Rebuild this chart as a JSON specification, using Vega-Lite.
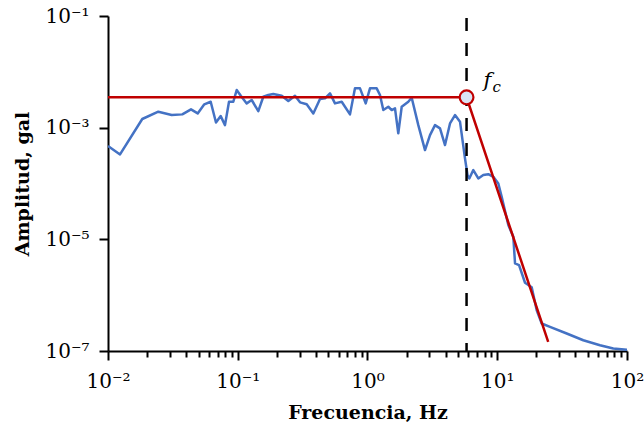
{
  "$schema": "https://vega.github.io/schema/vega-lite/v6.json",
  "width": 519,
  "height": 335,
  "autosize": {"type": "none"},
  "padding": {"left": 108, "top": 16, "right": 17, "bottom": 72},
  "background": "white",
  "config": {
    "view": {"stroke": null},
    "font": "DejaVu Serif",
    "axis": {
      "grid": false,
      "ticks": true,
      "domainColor": "black",
      "domainWidth": 2,
      "tickColor": "black",
      "tickWidth": 2,
      "labelColor": "black",
      "titleColor": "black",
      "labelFont": "DejaVu Serif",
      "titleFont": "DejaVu Serif",
      "labelFontSize": 20,
      "titleFontSize": 19,
      "titleFontWeight": "bold"
    }
  },
  "datasets": {
    "spectrum": [
      {"f": 0.01, "A": 4.68e-4},
      {"f": 0.01238, "A": 3.32e-4},
      {"f": 0.01837, "A": 1.43e-3},
      {"f": 0.02442, "A": 1.93e-3},
      {"f": 0.03097, "A": 1.68e-3},
      {"f": 0.03737, "A": 1.73e-3},
      {"f": 0.04362, "A": 2.13e-3},
      {"f": 0.04912, "A": 1.80e-3},
      {"f": 0.05524, "A": 2.62e-3},
      {"f": 0.06186, "A": 2.91e-3},
      {"f": 0.06797, "A": 1.24e-3},
      {"f": 0.07388, "A": 1.61e-3},
      {"f": 0.07973, "A": 1.11e-3},
      {"f": 0.08562, "A": 2.91e-3},
      {"f": 0.09241, "A": 2.91e-3},
      {"f": 0.09815, "A": 4.72e-3},
      {"f": 0.1059, "A": 3.68e-3},
      {"f": 0.1172, "A": 2.72e-3},
      {"f": 0.1281, "A": 3.13e-3},
      {"f": 0.144, "A": 1.98e-3},
      {"f": 0.1574, "A": 3.58e-3},
      {"f": 0.1719, "A": 3.84e-3},
      {"f": 0.1879, "A": 4.0e-3},
      {"f": 0.2182, "A": 3.73e-3},
      {"f": 0.2453, "A": 3.0e-3},
      {"f": 0.2762, "A": 3.73e-3},
      {"f": 0.3019, "A": 2.84e-3},
      {"f": 0.3399, "A": 2.62e-3},
      {"f": 0.3823, "A": 1.80e-3},
      {"f": 0.4305, "A": 3.26e-3},
      {"f": 0.4704, "A": 3.35e-3},
      {"f": 0.514, "A": 4.12e-3},
      {"f": 0.5617, "A": 2.72e-3},
      {"f": 0.6327, "A": 2.91e-3},
      {"f": 0.7329, "A": 1.73e-3},
      {"f": 0.8008, "A": 5.06e-3},
      {"f": 0.8755, "A": 5.06e-3},
      {"f": 0.9685, "A": 2.72e-3},
      {"f": 1.045, "A": 5.06e-3},
      {"f": 1.177, "A": 5.06e-3},
      {"f": 1.248, "A": 3.84e-3},
      {"f": 1.324, "A": 2.07e-3},
      {"f": 1.447, "A": 2.37e-3},
      {"f": 1.537, "A": 2.07e-3},
      {"f": 1.629, "A": 2.22e-3},
      {"f": 1.727, "A": 7.91e-4},
      {"f": 1.835, "A": 2.37e-3},
      {"f": 2.063, "A": 2.91e-3},
      {"f": 2.191, "A": 3.44e-3},
      {"f": 2.464, "A": 1.11e-3},
      {"f": 2.775, "A": 3.97e-4},
      {"f": 3.032, "A": 7.36e-4},
      {"f": 3.313, "A": 1.11e-3},
      {"f": 3.621, "A": 9.71e-4},
      {"f": 3.957, "A": 4.88e-4},
      {"f": 4.324, "A": 1.19e-3},
      {"f": 4.725, "A": 1.68e-3},
      {"f": 5.163, "A": 1.28e-3},
      {"f": 5.641, "A": 2.82e-4},
      {"f": 5.898, "A": 1.42e-4},
      {"f": 6.089, "A": 1.23e-4},
      {"f": 6.539, "A": 1.74e-4},
      {"f": 7.145, "A": 1.23e-4},
      {"f": 7.807, "A": 1.42e-4},
      {"f": 8.533, "A": 1.47e-4},
      {"f": 9.325, "A": 1.32e-4},
      {"f": 10.19, "A": 1.0e-4},
      {"f": 10.82, "A": 5.78e-5},
      {"f": 12.17, "A": 1.80e-5},
      {"f": 13.3, "A": 1.11e-5},
      {"f": 13.71, "A": 3.70e-6},
      {"f": 14.72, "A": 3.45e-6},
      {"f": 16.37, "A": 1.67e-6},
      {"f": 18.43, "A": 1.39e-6},
      {"f": 20.14, "A": 5.38e-7},
      {"f": 22.01, "A": 3.11e-7},
      {"f": 25.5, "A": 2.70e-7},
      {"f": 34.3, "A": 2.06e-7},
      {"f": 46.04, "A": 1.56e-7},
      {"f": 61.93, "A": 1.27e-7},
      {"f": 78.42, "A": 1.11e-7},
      {"f": 100, "A": 1.05e-7}
    ],
    "model": [
      {"f": 0.01, "A": 3.49e-3},
      {"f": 5.8, "A": 3.49e-3},
      {"f": 24.7, "A": 1.46e-7}
    ],
    "corner": [
      {"f": 5.8, "A": 3.49e-3}
    ]
  },
  "encoding": {
    "x": {
      "field": "f", "type": "quantitative",
      "scale": {"type": "log", "domain": [0.01, 100], "nice": false},
      "axis": {
        "orient": "bottom",
        "title": "Frecuencia, Hz",
        "values": [0.01, 0.02, 0.03, 0.04, 0.05, 0.06, 0.07, 0.08, 0.09, 0.1, 0.2, 0.3, 0.4, 0.5, 0.6, 0.7, 0.8, 0.9, 1, 2, 3, 4, 5, 6, 7, 8, 9, 10, 20, 30, 40, 50, 60, 70, 80, 90, 100],
        "ticks": true,
        "tickColor": "#000000",
        "tickWidth": 2,
        "tickSize": {"condition": {"test": "abs(log(datum.value)/LN10 - round(log(datum.value)/LN10)) < 0.001", "value": 9}, "value": 6},
        "labelPadding": 27,
        "labelBaseline": "alphabetic",
        "labelFlush": false,
        "labelOverlap": false,
        "labelExpr": "abs(log(datum.value)/LN10 - round(log(datum.value)/LN10)) > 0.001 ? '' : datum.value < 0.05 ? '10⁻²' : datum.value < 0.5 ? '10⁻¹' : datum.value < 5 ? '10⁰' : datum.value < 50 ? '10¹' : '10²'",
        "titleBaseline": "alphabetic",
        "titleY": 67
      }
    },
    "y": {
      "field": "A", "type": "quantitative",
      "scale": {"type": "log", "domain": [1e-7, 0.1], "nice": false},
      "axis": {
        "title": "Amplitud, gal",
        "values": [0.1, 0.001, 0.00001, 0.0000001],
        "ticks": true,
        "tickColor": "#000000",
        "tickWidth": 2,
        "tickSize": 9,
        "labelPadding": 10,
        "labelBaseline": "middle",
        "labelFlush": false,
        "labelOverlap": false,
        "labelExpr": "datum.value > 0.05 ? '10⁻¹' : datum.value > 5e-4 ? '10⁻³' : datum.value > 5e-6 ? '10⁻⁵' : '10⁻⁷'",
        "titleBaseline": "alphabetic",
        "titleX": -80
      }
    }
  },
  "layer": [
    {
      "data": {"name": "spectrum"},
      "mark": {"type": "line", "color": "#4472C4", "strokeWidth": 2.5, "strokeJoin": "round", "clip": true}
    },
    {
      "data": {"name": "corner"},
      "mark": {"type": "rule", "color": "black", "strokeWidth": 2.5, "strokeDash": [13, 12], "strokeDashOffset": -2},
      "encoding": {
        "y": null
      }
    },
    {
      "data": {"name": "model"},
      "mark": {"type": "line", "color": "#C00000", "strokeWidth": 2.5}
    },
    {
      "data": {"name": "corner"},
      "mark": {"type": "point", "shape": "circle", "filled": true, "size": 190, "fill": "#DAE3F3", "stroke": "#C00000", "strokeWidth": 2.2, "opacity": 1}
    },
    {
      "data": {"name": "corner"},
      "mark": {"type": "text", "text": "f", "font": "DejaVu Serif", "fontStyle": "italic", "fontSize": 21, "align": "left", "baseline": "alphabetic", "dx": 17, "dy": -10, "color": "black"}
    },
    {
      "data": {"name": "corner"},
      "mark": {"type": "text", "text": "c", "font": "DejaVu Serif", "fontStyle": "italic", "fontSize": 15, "align": "left", "baseline": "alphabetic", "dx": 26, "dy": -5, "color": "black"}
    }
  ]
}
